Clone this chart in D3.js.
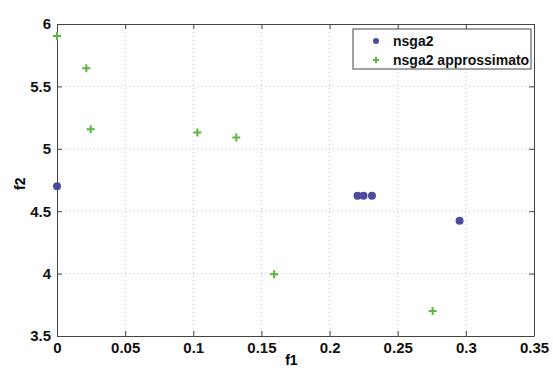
<!DOCTYPE html>
<html>
<head>
<meta charset="utf-8">
<script src="https://cdn.jsdelivr.net/npm/d3@7"></script>
<style>
  body { margin: 0; background: #fff; }
  text { font-family: "Liberation Sans", Arial, sans-serif; font-weight: bold; }
</style>
</head>
<body>
<div id="chart"></div>
<script>
// data
var nsgaF1 = [0, 0.2205, 0.2249, 0.2311, 0.2954];
var nsgaF2 = [4.70, 4.624, 4.624, 4.624, 4.424];
var approxF1 = [0, 0.0215, 0.0247, 0.1030, 0.1316, 0.1593, 0.2756];
var approxF2 = [5.904, 5.645, 5.156, 5.130, 5.090, 3.995, 3.700];
var xTicks = [0, 0.05, 0.1, 0.15, 0.2, 0.25, 0.3, 0.35];
var yTicks = [3.5, 4, 4.5, 5, 5.5, 6];
var seriesNames = ["nsga2", "nsga2 approssimato"];

var blue_ = '#4b4a9c', green_ = '#5fb33e';

var margin = { top: 24, right: 19, bottom: 33, left: 57 },
    width = 553 - margin.left - margin.right,
    height = 369 - margin.top - margin.bottom;

var svg = d3.select("#chart")
    .append("svg")
    .attr("width", 553)
    .attr("height", 369)
    .append("g")
    .attr("transform", "translate(" + margin.left + "," + margin.top + ")");

var x = d3.scaleLinear().domain([0, 0.35]).range([0, width]);
var y = d3.scaleLinear().domain([3.5, 6]).range([height, 0]);

// grid
svg.append("g")
    .selectAll("line")
    .data(xTicks.slice(1, -1))
    .enter().append("line")
    .attr("x1", d => x(d)).attr("x2", d => x(d))
    .attr("y1", 0).attr("y2", height)
    .attr("stroke", "#c4c4c4").attr("stroke-width", 1)
    .attr("stroke-dasharray", "1,3");
svg.append("g")
    .selectAll("line")
    .data(yTicks.slice(1, -1))
    .enter().append("line")
    .attr("y1", d => y(d)).attr("y2", d => y(d))
    .attr("x1", 0).attr("x2", width)
    .attr("stroke", "#c4c4c4").attr("stroke-width", 1)
    .attr("stroke-dasharray", "1,3");

// axes, ticks pointing inward like matlab
var fmt = d3.format("");
var xAxis = svg.append("g")
    .attr("transform", "translate(0," + height + ")")
    .call(d3.axisBottom(x).tickValues(xTicks).tickSizeInner(-5).tickSizeOuter(0).tickPadding(10).tickFormat(fmt));
var yAxis = svg.append("g")
    .call(d3.axisLeft(y).tickValues(yTicks).tickSizeInner(-5).tickSizeOuter(0).tickPadding(6).tickFormat(fmt));
svg.append("g")
    .call(d3.axisTop(x).tickValues(xTicks).tickSizeInner(-5).tickSizeOuter(0).tickFormat(""));
svg.append("g")
    .attr("transform", "translate(" + width + ",0)")
    .call(d3.axisRight(y).tickValues(yTicks).tickSizeInner(-5).tickSizeOuter(0).tickFormat(""));

svg.selectAll(".domain").attr("stroke", "#444");
svg.selectAll(".tick line").attr("stroke", "#444");
svg.selectAll(".tick text")
    .attr("fill", "#111")
    .style("font-size", "15px")
    .style("font-family", "'Liberation Sans', Arial, sans-serif")
    .style("font-weight", "bold");
xAxis.selectAll(".tick text").attr("dy", "0.45em");

// axis labels
svg.append("text")
    .attr("x", x(0.172)).attr("y", height + 29)
    .attr("text-anchor", "middle")
    .style("font-size", "14px")
    .text("f1");
svg.append("text")
    .attr("transform", "translate(" + (-32) + "," + y(4.72) + ") rotate(-90)")
    .attr("text-anchor", "middle")
    .style("font-size", "14px")
    .text("f2");

// points
var nsga = nsgaF1.map((d, i) => ({ f1: d, f2: nsgaF2[i] }));
var approx = approxF1.map((d, i) => ({ f1: d, f2: approxF2[i] }));

svg.append("g")
    .selectAll("circle")
    .data(nsga)
    .enter().append("circle")
    .attr("cx", d => x(d.f1))
    .attr("cy", d => y(d.f2))
    .attr("r", 4)
    .attr("fill", blue_);

svg.append("g")
    .selectAll("path")
    .data(approx)
    .enter().append("path")
    .attr("d", "M-4,0H4M0,-4V4")
    .attr("transform", d => "translate(" + x(d.f1) + "," + y(d.f2) + ")")
    .attr("stroke", green_)
    .attr("stroke-width", 2);

// legend
var legend = svg.append("g").attr("transform", "translate(296,5)");
legend.append("rect")
    .attr("width", 178).attr("height", 40)
    .attr("fill", "#fff").attr("stroke", "#444");
legend.append("circle")
    .attr("cx", 23).attr("cy", 12).attr("r", 3).attr("fill", blue_);
legend.append("path")
    .attr("d", "M-3,0H3M0,-3V3")
    .attr("transform", "translate(23,31)")
    .attr("stroke", green_).attr("stroke-width", 2);
legend.selectAll("text.lab")
    .data(seriesNames)
    .enter().append("text")
    .attr("class", "lab")
    .attr("x", 40)
    .attr("y", (d, i) => 17 + i * 19)
    .style("font-size", "14px")
    .attr("fill", "#111")
    .text(d => d);
</script>
</body>
</html>
